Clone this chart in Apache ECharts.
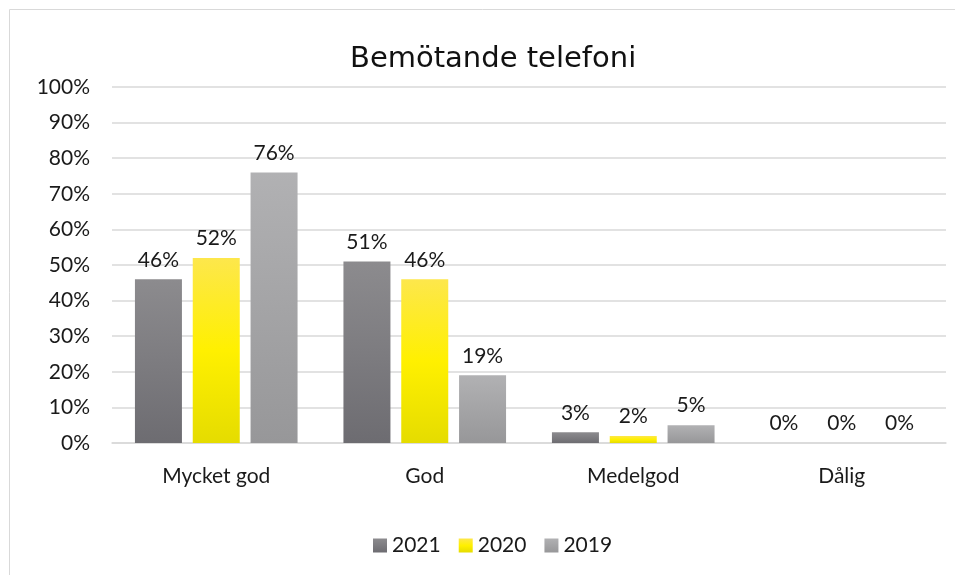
<!DOCTYPE html>
<html>
<head>
<meta charset="utf-8">
<script src="https://cdn.jsdelivr.net/npm/echarts@6/dist/echarts.min.js"></script>
<style>
  html, body { margin: 0; padding: 0; background: #fff; }
  #chart { width: 955px; height: 575px; }
</style>
</head>
<body>
<div id="chart"></div>
<script>
const categories = ['Mycket god', 'God', 'Medelgod', 'Dålig']
const years = ['2021', '2020', '2019']
const values2021 = [46, 51, 3, 0]
const values2020 = [52, 46, 2, 0]
const values2019 = [76, 19, 5, 0]

const grad = (stops) => new echarts.graphic.LinearGradient(0, 0, 0, 1,
  stops.map((c, i) => ({ offset: i / (stops.length - 1), color: c })))

const colors = [
  grad(['#8c8b8e', '#7d7c80', '#6d6c71']),
  grad(['#fde74c', '#fff000', '#e5dc00']),
  grad(['#b1b1b3', '#a4a4a6', '#979799'])
]

const font = 'Lato, Open Sans, sans-serif'

const makeSeries = (name, data, color) => ({
  name: name,
  type: 'bar',
  data: data,
  barWidth: 47,
  barGap: '23%',
  itemStyle: { color: color },
  label: {
    show: true,
    position: 'top',
    distance: 9,
    formatter: '{c}%',
    fontSize: 21,
    color: '#1a1a1a',
    fontFamily: font
  }
})

const chart = echarts.init(document.getElementById('chart'))
chart.setOption({
  animation: false,
  graphic: [{
    type: 'rect',
    shape: { x: 9.5, y: 9.5, width: 960, height: 600 },
    style: { fill: 'none', stroke: '#d9d9d9', lineWidth: 1 },
    silent: true
  }],
  title: {
    text: 'Bemötande telefoni',
    left: 345,
    top: 40,
    textStyle: { fontSize: 29, fontWeight: 'normal', color: '#111', fontFamily: 'DejaVu Sans, sans-serif' }
  },
  grid: { left: 112, right: 9, top: 87, bottom: 132 },
  legend: {
    data: years,
    bottom: 14,
    left: 368,
    itemWidth: 14,
    itemHeight: 14,
    itemGap: 18,
    icon: 'rect',
    textStyle: { fontSize: 21, color: '#1a1a1a', fontFamily: font }
  },
  xAxis: {
    type: 'category',
    data: categories,
    axisLine: { lineStyle: { color: '#d9d9d9', width: 1.5 } },
    axisTick: { show: false },
    axisLabel: { fontSize: 21, color: '#1a1a1a', margin: 23, fontFamily: font }
  },
  yAxis: {
    type: 'value',
    min: 0,
    max: 100,
    interval: 10,
    axisLabel: { formatter: '{value}%', fontSize: 21, color: '#1a1a1a', margin: 22, fontFamily: font },
    splitLine: { lineStyle: { color: '#d9d9d9', width: 1.5 } },
    axisLine: { show: false },
    axisTick: { show: false }
  },
  series: [
    makeSeries(years[0], values2021, colors[0]),
    makeSeries(years[1], values2020, colors[1]),
    makeSeries(years[2], values2019, colors[2])
  ]
})
</script>
</body>
</html>
